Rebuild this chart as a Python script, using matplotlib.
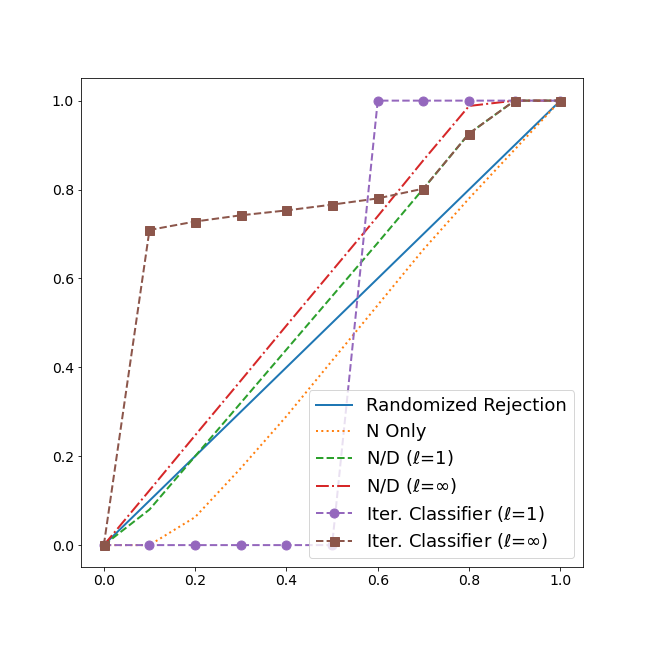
import matplotlib
matplotlib.use('Agg')
import matplotlib.pyplot as plt
import numpy as np

x = np.round(np.arange(0, 1.01, 0.1), 1)

randomized = [0.0, 0.1, 0.2, 0.3, 0.4, 0.5, 0.6, 0.7, 0.8, 0.9, 1.0]
n_only = [0.0, 0.0, 0.063, 0.173, 0.29, 0.415, 0.54, 0.665, 0.78, 0.89, 1.0]
nd_l1 = [0.0, 0.08, 0.2, 0.32, 0.44, 0.56, 0.68, 0.802, 0.926, 1.0, 1.0]
nd_linf = [0.0, 0.123, 0.247, 0.37, 0.494, 0.617, 0.74, 0.866, 0.988, 1.0, 1.0]
iter_l1 = [0.0, 0.0, 0.0, 0.0, 0.0, 0.0, 1.0, 1.0, 1.0, 1.0, 1.0]
iter_linf = [0.0, 0.709, 0.728, 0.742, 0.753, 0.766, 0.780, 0.802, 0.926, 1.0, 1.0]

fig, ax = plt.subplots(figsize=(9, 9), dpi=72)
fig.subplots_adjust(left=0.125, right=0.9, bottom=0.1245, top=0.879)

ax.plot(x, randomized, '-', lw=2, label='Randomized Rejection')
ax.plot(x, n_only, ':', lw=2, label='N Only')
ax.plot(x, nd_l1, '--', lw=2, label=r'N/D ($\ell$=1)')
ax.plot(x, nd_linf, '-.', lw=2, label=r'N/D ($\ell$=$\infty$)')
ax.plot(x, iter_l1, '--', marker='o', markersize=9, lw=2, label=r'Iter. Classifier ($\ell$=1)')
ax.plot(x, iter_linf, '--', marker='s', markersize=9, lw=2, label=r'Iter. Classifier ($\ell$=$\infty$)')

ax.tick_params(labelsize=14)
ax.legend(loc='lower right', fontsize=18, labelspacing=0.42)

plt.savefig('out.png', dpi=72)
